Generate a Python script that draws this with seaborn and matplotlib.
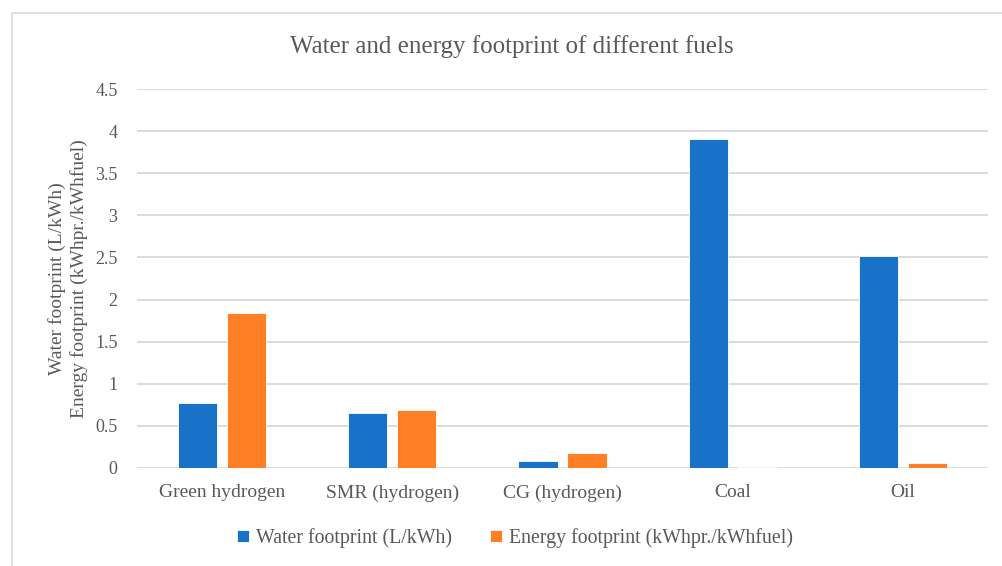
import matplotlib
matplotlib.use("Agg")
import matplotlib.pyplot as plt
from matplotlib.patches import Rectangle
import seaborn as sns
import pandas as pd

categories = ["Green hydrogen", "SMR (hydrogen)", "CG (hydrogen)", "Coal", "Oil"]
water = [0.77, 0.65, 0.08, 3.91, 2.52]
energy = [1.84, 0.69, 0.17, 0.005, 0.05]
series_names = ["Water footprint (L/kWh)", "Energy footprint (kWhpr./kWhfuel)"]
y_ticks = [0, 0.5, 1, 1.5, 2, 2.5, 3, 3.5, 4, 4.5]
y_tick_labels = ["0", "0.5", "1", "1.5", "2", "2.5", "3", "3.5", "4", "4.5"]

df = pd.DataFrame({
    "fuel": categories * 2,
    "value": water + energy,
    "series": [series_names[0]] * len(categories) + [series_names[1]] * len(categories),
})

sns.set_theme(style="white")
plt.rcParams["font.family"] = ["Liberation Serif", "DejaVu Serif"]
text_color = "#595959"
grid_color = "#D9D9D9"

fig = plt.figure(figsize=(10.02, 5.66), dpi=100)
ax = fig.add_axes([137 / 1002, 1 - 467.7 / 566, (988 - 137) / 1002, (467.7 - 89.3) / 566])

sns.barplot(
    data=df, x="fuel", y="value", hue="series",
    palette=["#1772C8", "#FF8024"], saturation=1, width=0.576, gap=0.2,
    edgecolor="#FFFFFF", linewidth=0.6, ax=ax, zorder=3,
)

ax.set_ylim(0, 4.5)
ax.set_yticks(y_ticks)
ax.set_yticklabels(y_tick_labels)
ax.set_xlim(-0.5, len(categories) - 0.5)
ax.yaxis.grid(True, color=grid_color, linewidth=1.3, zorder=0)
ax.set_axisbelow(True)
for s in ax.spines.values():
    s.set_visible(False)
ax.tick_params(axis="both", length=0, labelsize=13, labelcolor=text_color)
ax.tick_params(axis="x", labelsize=14, pad=12)
ax.tick_params(axis="y", pad=14)
ax.set_xlabel("")
ax.set_ylabel("Water footprint (L/kWh)\nEnergy footprint (kWhpr./kWhfuel)",
              fontsize=14, color=text_color, labelpad=5, linespacing=1.3)

fig.text(512 / 1002, 1 - 47 / 566, "Water and energy footprint of different fuels",
         fontsize=18, color=text_color, ha="center", va="center")

sns.move_legend(ax, "center", bbox_to_anchor=(515 / 1002, 1 - 538 / 566),
                bbox_transform=fig.transFigure, ncol=2, frameon=False, title=None,
                fontsize=14.3, handlelength=0.6, handleheight=0.6,
                handletextpad=0.35, columnspacing=1.9)
for t in ax.get_legend().get_texts():
    t.set_color(text_color)

fig.patches.append(Rectangle((12 / 1002, -0.01), 1.0, 1 - 13 / 566 + 0.01,
                             transform=fig.transFigure, fill=False,
                             edgecolor=grid_color, linewidth=1.2))

fig.savefig("out.png", dpi=100, facecolor="white")
